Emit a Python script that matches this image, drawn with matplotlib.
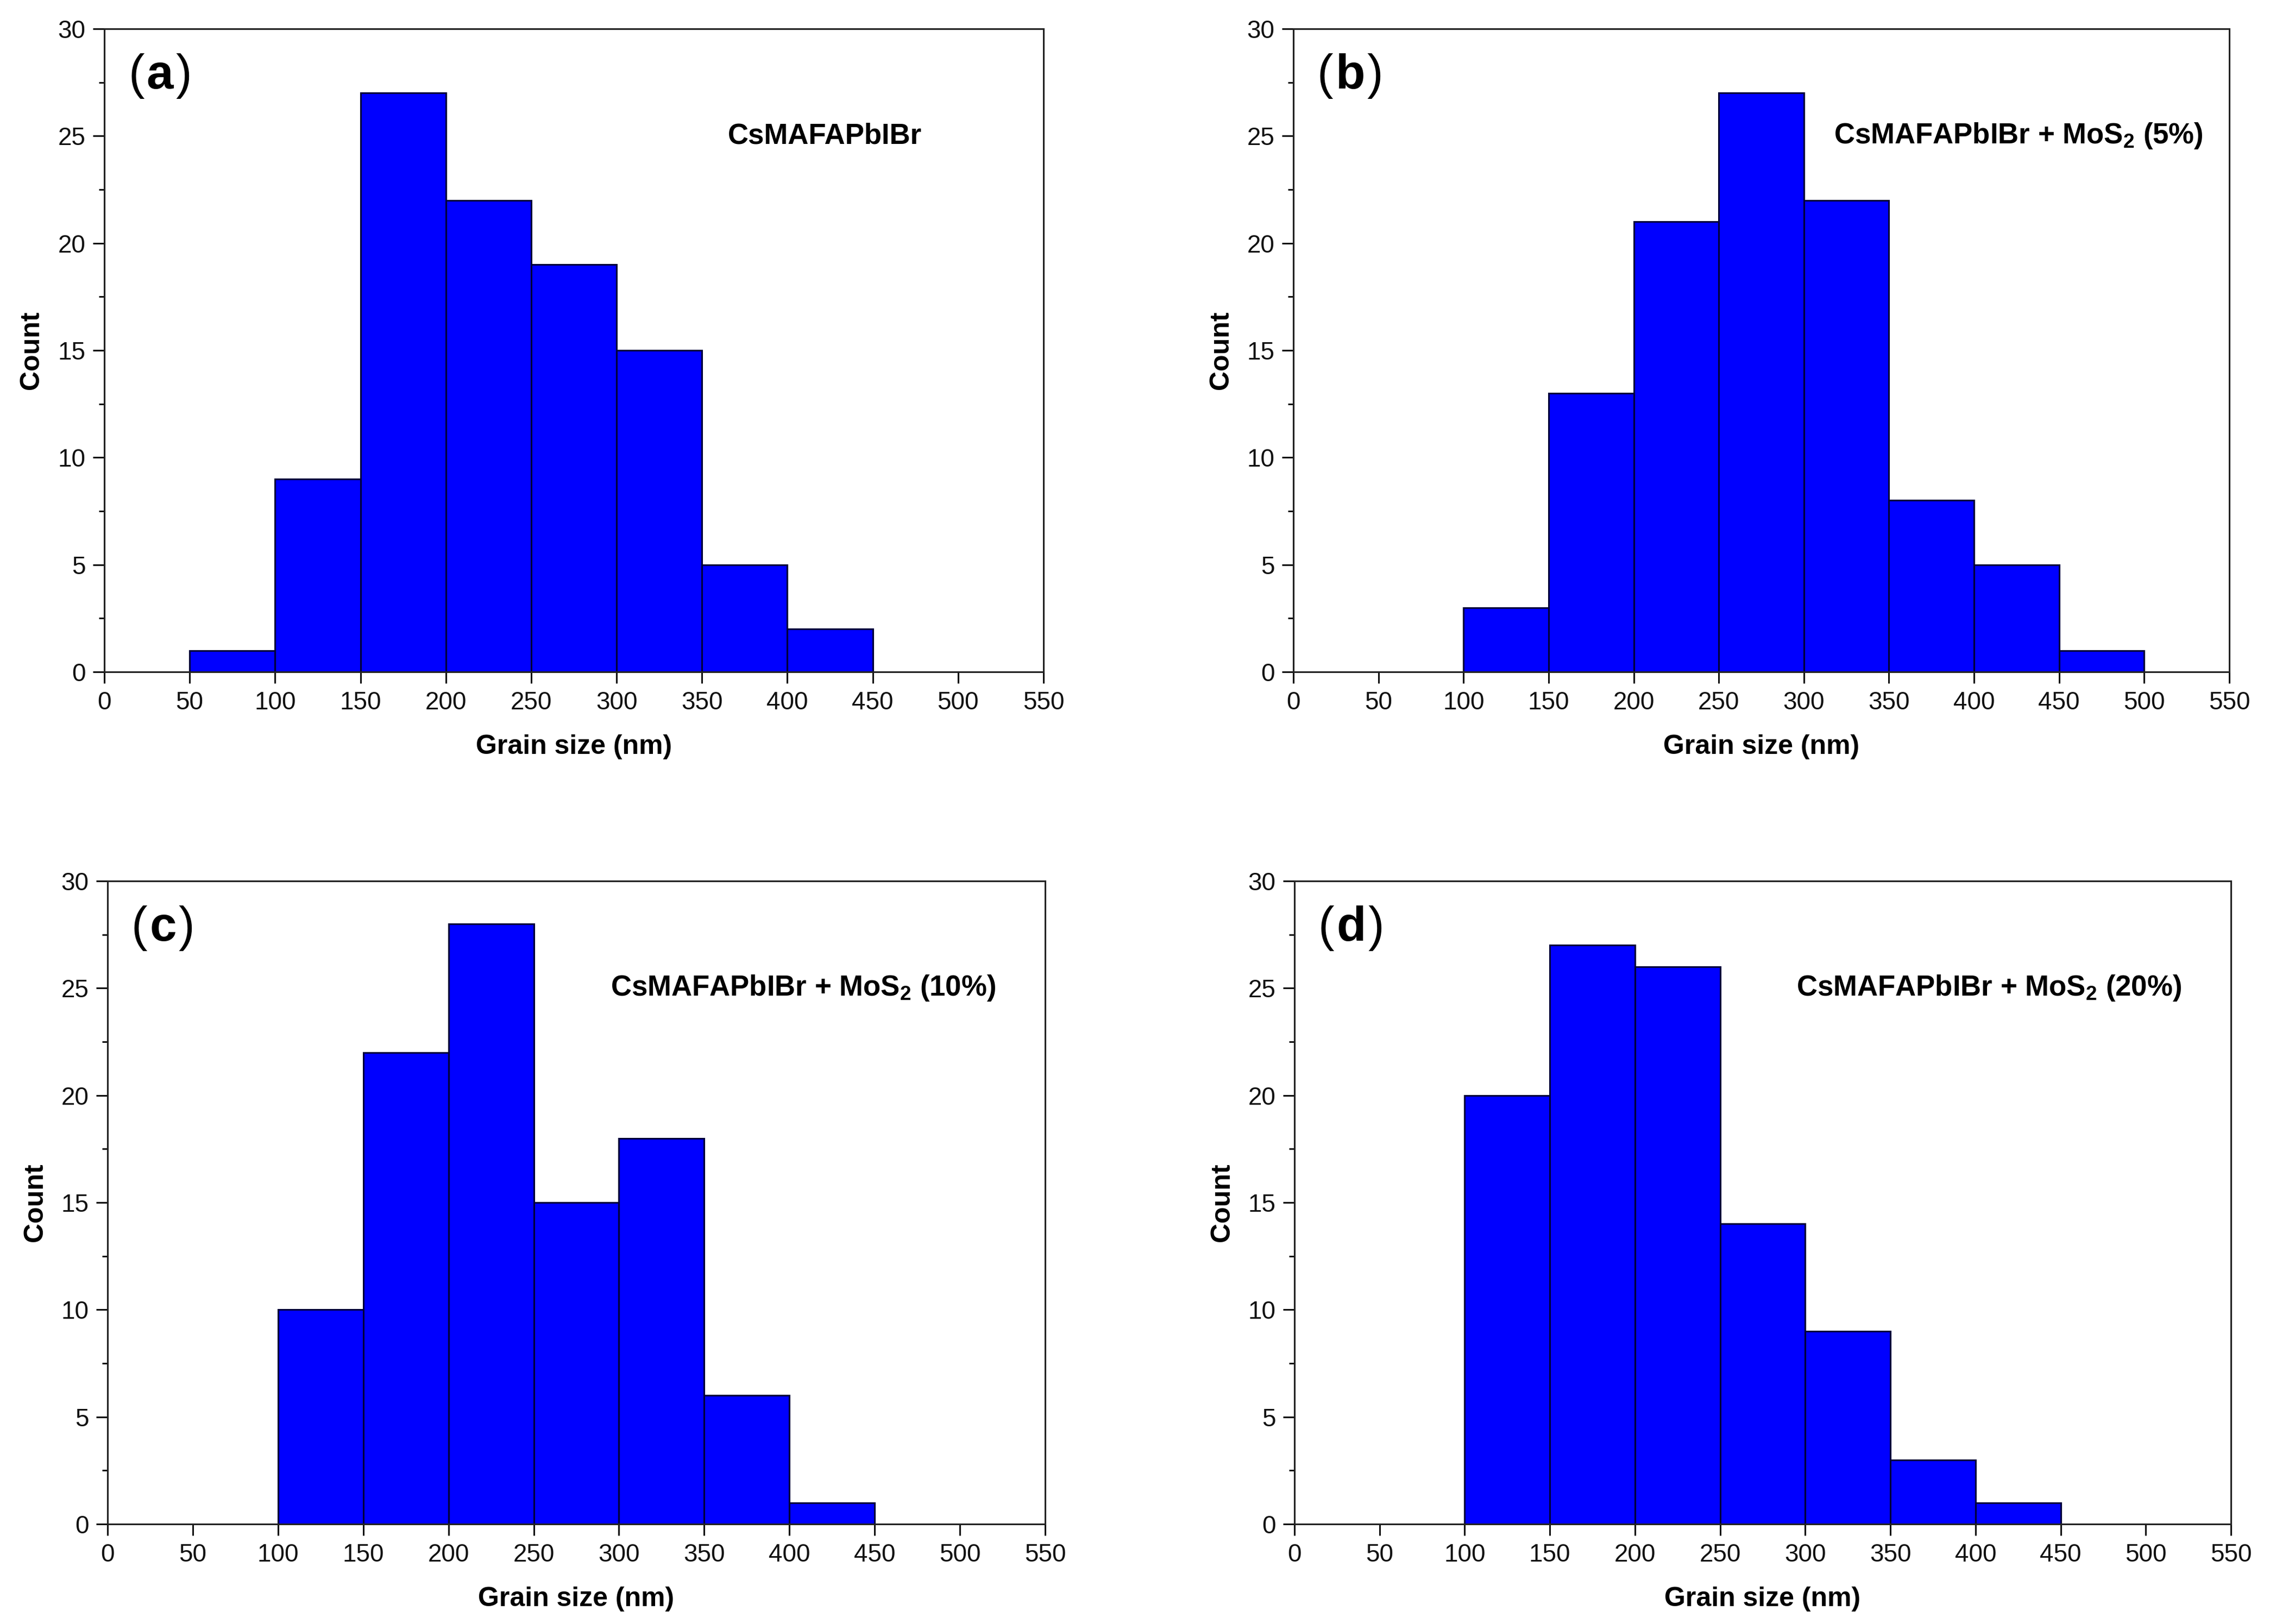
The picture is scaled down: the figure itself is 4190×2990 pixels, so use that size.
import numpy as np
import matplotlib
matplotlib.use("Agg")
import matplotlib.pyplot as plt
from matplotlib.ticker import MultipleLocator

plt.rcParams['font.family'] = ['Liberation Sans Narrow', 'Liberation Sans', 'DejaVu Sans']
plt.rcParams['mathtext.fontset'] = 'custom'
plt.rcParams['mathtext.rm'] = 'Liberation Sans'
plt.rcParams['mathtext.bf'] = 'Liberation Sans:bold'

# ---- data ----
edges_a = [50, 100, 150, 200, 250, 300, 350, 400, 450]
counts_a = [1, 9, 27, 22, 19, 15, 5, 2]
edges_b = [100, 150, 200, 250, 300, 350, 400, 450, 500]
counts_b = [3, 13, 21, 27, 22, 8, 5, 1]
edges_c = [100, 150, 200, 250, 300, 350, 400, 450]
counts_c = [10, 22, 28, 15, 18, 6, 1]
edges_d = [100, 150, 200, 250, 300, 350, 400, 450]
counts_d = [20, 27, 26, 14, 9, 3, 1]

panel_letters = ['a', 'b', 'c', 'd']
sample_labels = [r'CsMAFAPbIBr',
                 r'CsMAFAPbIBr + MoS$_{\mathbf{2}}$ (5%)',
                 r'CsMAFAPbIBr + MoS$_{\mathbf{2}}$ (10%)',
                 r'CsMAFAPbIBr + MoS$_{\mathbf{2}}$ (20%)']
label_x = [422, 426, 408, 408]
x_ticks = list(range(0, 551, 50))
y_ticks = list(range(0, 31, 5))
xlabel = 'Grain size (nm)'
ylabel = 'Count'

datasets = [(edges_a, counts_a), (edges_b, counts_b), (edges_c, counts_c), (edges_d, counts_d)]

W, H = 4190, 2990
fig = plt.figure(figsize=(W / 100, H / 100), dpi=100)

# axes rects in pixels: left, top, right, bottom
rects_px = [(192, 53, 1921, 1237), (2381, 53, 4104, 1237),
            (198, 1622, 1924, 2806), (2383, 1622, 4107, 2806)]

axes = []
for i, ((edges, counts), (l, t, r, b)) in enumerate(zip(datasets, rects_px)):
    ax = fig.add_axes([l / W, 1 - b / H, (r - l) / W, (b - t) / H])
    axes.append(ax)
    e = np.array(edges, dtype=float)
    ax.bar(e[:-1], counts, width=np.diff(e), align='edge', color='#0000ff',
           edgecolor='#00003a', linewidth=2.2, zorder=2)
    ax.set_xlim(0, 550)
    ax.set_ylim(0, 30)
    ax.set_xticks(x_ticks)
    ax.set_yticks(y_ticks)
    ax.yaxis.set_minor_locator(MultipleLocator(2.5))
    ax.tick_params(axis='both', which='major', direction='out', length=15, width=2.2,
                   labelsize=33, pad=10, top=False, right=False, colors='#111111')
    ax.tick_params(axis='y', which='minor', direction='out', length=7, width=2.0,
                   right=False)
    for sp in ax.spines.values():
        sp.set_linewidth(2.2)
        sp.set_color('#222222')
    ax.set_xlabel(xlabel, fontsize=36, fontweight='bold')
    ax.set_ylabel(ylabel, fontsize=36, fontweight='bold')
    ax.xaxis.set_label_coords(0.5, -0.097)
    ax.yaxis.set_label_coords(-0.064, 0.5)
    ax.text(label_x[i], 25, sample_labels[i], fontsize=38, fontweight='bold',
            ha='center', va='center', zorder=3)

fig.canvas.draw()
renderer = fig.canvas.get_renderer()
fam = ['Liberation Sans', 'DejaVu Sans']
for ax, letter in zip(axes, panel_letters):
    x0, y0 = ax.transData.transform((14, 27.8))
    p1 = ax.text(x0, y0, '(', fontsize=64, ha='left', va='center', family=fam,
                 transform=None)
    bb = p1.get_window_extent(renderer)
    p2 = ax.text(bb.x1 + 4, y0, letter, fontsize=64, fontweight='bold', ha='left',
                 va='center', family=fam, transform=None)
    bb2 = p2.get_window_extent(renderer)
    ax.text(bb2.x1 + 4, y0, ')', fontsize=64, ha='left', va='center', family=fam,
            transform=None)

fig.savefig('out.png', dpi=100, facecolor='white')
